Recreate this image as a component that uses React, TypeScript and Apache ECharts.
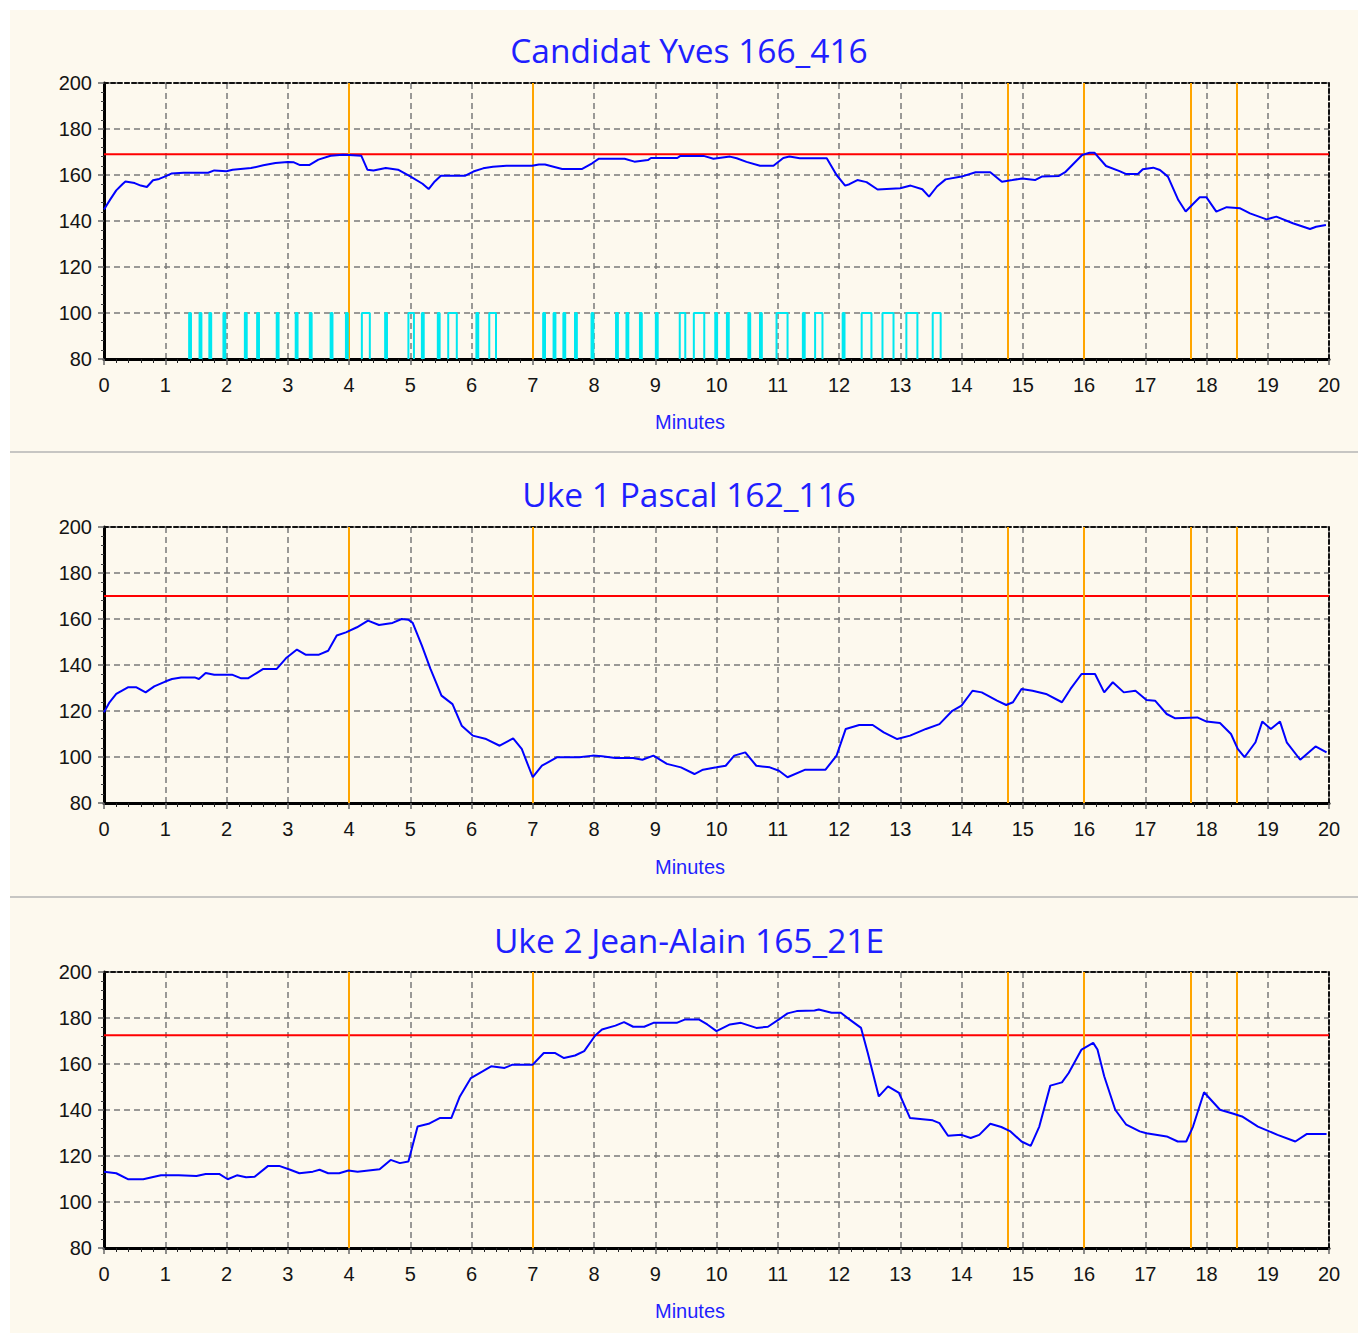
import React, { useEffect, useRef } from "react";
import * as echarts from "echarts";

// ---- data ----
const chartTitles = ["Candidat Yves 166_416", "Uke 1 Pascal 162_116", "Uke 2 Jean-Alain 165_21E"];
const xAxisName = "Minutes";
const thresholds = [169, 170, 172.5];
const phaseMarks = [4, 7, 14.75, 16, 17.75, 18.5];

const yvesHR: [number, number][] = [
  [0, 145], [0.1, 149.3], [0.2, 153.3], [0.3, 156], [0.35, 157.2], [0.5, 156.5], [0.6, 155.4], [0.7, 154.8],
  [0.8, 157.7], [0.9, 158.3], [1.0, 159.4], [1.1, 160.6], [1.3, 161], [1.7, 161], [1.8, 162], [2.0, 161.6],
  [2.1, 162.3], [2.4, 163], [2.6, 164.2], [2.8, 165.2], [3.0, 165.7], [3.1, 165.5], [3.2, 164.3], [3.35, 164.3],
  [3.5, 166.7], [3.7, 168.4], [3.9, 168.8], [4.0, 168.7], [4.2, 168.4], [4.3, 162.3], [4.4, 162], [4.6, 163],
  [4.8, 162.3], [5.0, 159.4], [5.2, 156.2], [5.3, 153.9], [5.4, 157.2], [5.5, 159.7], [5.9, 159.7], [6.03, 161.5],
  [6.19, 162.9], [6.35, 163.6], [6.57, 164], [6.99, 164], [7.1, 164.6], [7.2, 164.6], [7.37, 163.4], [7.48, 162.6],
  [7.8, 162.6], [7.97, 165.1], [8.08, 167.1], [8.5, 167.1], [8.66, 165.8], [8.88, 166.5], [8.93, 167.4], [9.36, 167.4],
  [9.41, 168.3], [9.79, 168.3], [9.95, 167.1], [10.22, 168], [10.33, 167.3], [10.49, 165.7], [10.71, 164], [10.93, 164],
  [11.09, 167.4], [11.19, 168], [11.36, 167.3], [11.8, 167.3], [11.96, 160], [12.1, 155.4], [12.17, 156], [12.3, 157.8],
  [12.45, 156.9], [12.63, 153.7], [13.0, 154.2], [13.17, 155.4], [13.36, 153.8], [13.47, 150.6], [13.6, 155],
  [13.74, 158.1], [14.0, 159.3], [14.23, 161.2], [14.47, 161.2], [14.66, 157.1], [14.83, 157.8], [14.99, 158.5],
  [15.2, 157.8], [15.31, 159.3], [15.59, 159.6], [15.7, 161.4], [15.97, 168.7], [16.09, 169.7], [16.17, 169.7],
  [16.36, 163.9], [16.58, 161.7], [16.69, 160.4], [16.88, 160.4], [16.96, 162.5], [17.13, 163.2], [17.24, 162.2],
  [17.37, 159.3], [17.54, 149.1], [17.66, 144.1], [17.78, 147.4], [17.89, 150.3], [18.0, 150.3], [18.16, 144.1],
  [18.33, 146], [18.55, 145.5], [18.71, 143.3], [18.98, 140.7], [19.14, 141.9], [19.41, 139], [19.69, 136.5],
  [19.79, 137.5], [19.95, 138.3],
];

const pascalHR: [number, number][] = [
  [0, 119.4], [0.09, 123.8], [0.2, 127.4], [0.39, 130.3], [0.53, 130.3], [0.68, 128.1], [0.82, 130.7], [1.0, 132.8],
  [1.11, 133.9], [1.26, 134.6], [1.48, 134.6], [1.55, 133.9], [1.66, 136.5], [1.8, 135.8], [2.09, 135.8], [2.24, 134.2],
  [2.35, 134.2], [2.49, 136.5], [2.6, 138.3], [2.82, 138.3], [2.97, 142.9], [3.15, 146.7], [3.29, 144.5], [3.51, 144.5],
  [3.66, 146.2], [3.8, 152.8], [3.95, 154.2], [4.13, 156.4], [4.31, 159.3], [4.49, 157.4], [4.71, 158.3], [4.86, 160],
  [4.97, 159.7], [5.04, 158.3], [5.19, 148.4], [5.33, 138.3], [5.51, 126.7], [5.69, 123], [5.84, 113.6], [6.02, 109.3],
  [6.24, 107.8], [6.46, 104.9], [6.68, 108.1], [6.82, 103.5], [7.0, 91.2], [7.15, 96.2], [7.4, 99.9], [7.76, 99.9],
  [7.98, 100.6], [8.13, 100.3], [8.35, 99.6], [8.64, 99.6], [8.79, 98.8], [8.97, 100.6], [9.19, 97], [9.42, 95.5],
  [9.64, 92.6], [9.78, 94.5], [10.0, 95.5], [10.15, 96.2], [10.29, 100.6], [10.47, 102], [10.65, 96.2], [10.87, 95.5],
  [11.02, 94], [11.16, 91.2], [11.45, 94.5], [11.78, 94.5], [11.96, 100.6], [12.11, 112.2], [12.33, 113.9], [12.55, 113.9],
  [12.73, 110.7], [12.95, 107.8], [13.16, 109.3], [13.42, 112.2], [13.64, 114.3], [13.85, 120.1], [14.0, 122.3],
  [14.18, 128.8], [14.33, 128.1], [14.58, 124.5], [14.73, 122.6], [14.84, 123.8], [14.98, 129.6], [15.16, 128.8],
  [15.38, 127.4], [15.64, 123.8], [15.78, 129.6], [15.96, 136.1], [16.18, 136.1], [16.33, 128.1], [16.47, 132.5],
  [16.65, 128.1], [16.84, 128.8], [17.02, 124.8], [17.16, 124.5], [17.35, 118.7], [17.49, 116.8], [17.85, 117.2],
  [18.0, 115.4], [18.22, 114.8], [18.4, 110], [18.51, 103.5], [18.62, 99.9], [18.8, 106.4], [18.91, 115.4],
  [19.05, 112.2], [19.2, 115.4], [19.31, 106.4], [19.53, 98.8], [19.78, 104.6], [19.96, 102],
];

const jeanHR: [number, number][] = [
  [0, 113.2], [0.2, 112.5], [0.39, 109.9], [0.64, 109.9], [0.82, 111], [0.93, 111.6], [1.22, 111.6], [1.51, 111.3],
  [1.66, 112.2], [1.88, 112.2], [2.02, 109.9], [2.17, 111.6], [2.32, 110.8], [2.46, 111], [2.68, 115.7], [2.86, 115.7],
  [3.04, 114], [3.19, 112.5], [3.41, 113.2], [3.52, 114], [3.66, 112.5], [3.84, 112.5], [3.99, 113.7], [4.14, 113.2],
  [4.5, 114.2], [4.68, 118.3], [4.83, 116.9], [4.97, 117.6], [5.12, 132.8], [5.3, 134], [5.48, 136.5], [5.67, 136.5],
  [5.81, 145.9], [5.99, 153.9], [6.18, 156.8], [6.32, 159], [6.54, 158.3], [6.67, 159.7], [7.0, 159.7], [7.18, 164.8],
  [7.36, 164.8], [7.51, 162.6], [7.69, 163.7], [7.84, 165.6], [8.02, 172.4], [8.13, 175], [8.35, 176.7], [8.49, 178.2],
  [8.64, 176.2], [8.82, 176.2], [8.97, 177.9], [9.35, 177.9], [9.49, 179.4], [9.71, 179.4], [9.85, 177.2], [10.0, 174.3],
  [10.22, 177.2], [10.4, 177.9], [10.65, 175.7], [10.84, 176.2], [11.02, 179.4], [11.16, 182], [11.31, 183],
  [11.6, 183.3], [11.67, 183.7], [11.88, 182.3], [12.03, 182.3], [12.17, 179.4], [12.36, 175.7], [12.47, 164.8],
  [12.65, 145.9], [12.8, 150.3], [12.98, 147.4], [13.16, 136.5], [13.53, 135.5], [13.64, 134.3], [13.78, 128.8],
  [14.0, 129.2], [14.15, 127.8], [14.29, 129.2], [14.47, 134], [14.65, 132.6], [14.8, 130.7], [14.98, 126.3],
  [15.13, 124.4], [15.27, 132.8], [15.45, 150.6], [15.64, 152], [15.75, 156.1], [15.96, 166.3], [16.15, 169.2],
  [16.22, 166.3], [16.33, 154.7], [16.51, 140.1], [16.69, 133.6], [16.91, 130.7], [17.02, 129.9], [17.35, 128.5],
  [17.53, 126.3], [17.67, 126.3], [17.78, 132.8], [17.96, 147.7], [18.22, 140.1], [18.44, 138.4], [18.58, 137.2],
  [18.84, 132.8], [19.16, 129.2], [19.45, 126.3], [19.64, 129.6], [19.96, 129.6],
];

// cyan event pulses for the candidate: [start, end] in minutes
const yvesPulses: [number, number][] = [
  [1.39, 1.42], [1.56, 1.59], [1.72, 1.75], [1.95, 1.98], [2.3, 2.33], [2.5, 2.53], [2.82, 2.85], [3.13, 3.16],
  [3.36, 3.39], [3.7, 3.73], [3.95, 3.98], [4.21, 4.34], [4.59, 4.62], [4.97, 5.06], [5.19, 5.22], [5.45, 5.48],
  [5.62, 5.76], [6.08, 6.11], [6.29, 6.4], [7.17, 7.2], [7.34, 7.37], [7.5, 7.53], [7.69, 7.72], [7.96, 7.99],
  [8.36, 8.39], [8.53, 8.56], [8.75, 8.78], [9.01, 9.04], [9.4, 9.49], [9.63, 9.8], [9.98, 10.01], [10.17, 10.2],
  [10.52, 10.55], [10.71, 10.74], [10.98, 11.16], [11.41, 11.44], [11.61, 11.73], [12.06, 12.09], [12.37, 12.53],
  [12.71, 12.89], [13.1, 13.28], [13.53, 13.66],
];

const heartRates = [yvesHR, pascalHR, jeanHR];

// ---- layout ----
const W = 1358;
const H = 1333;
const gridTops = [83, 527, 972];
const GRID_LEFT = 104;
const GRID_W = 1225;
const GRID_H = 276;
const titleY = [50, 494, 940];
const nameY = [422, 867, 1311];
const separators = [452, 897];

const FONT = "'Liberation Sans', Arial, sans-serif";
const TITLE_FONT = "'Open Sans', 'Noto Sans', sans-serif";
const BLUE_TEXT = "#1f1fff";

export default function App() {
  const ref = useRef<HTMLDivElement>(null);

  useEffect(() => {
    if (!ref.current) return;
    const chart = echarts.init(ref.current, undefined, { renderer: "svg" });

    const grid: any[] = [];
    const xAxis: any[] = [];
    const yAxis: any[] = [];
    const series: any[] = [];

    for (let i = 0; i < 3; i++) {
      grid.push({ left: GRID_LEFT, top: gridTops[i], width: GRID_W, height: GRID_H, containLabel: false });
    }
    const splitStyle = { show: true, lineStyle: { color: "#7a7a7a", width: 1.5, type: [6, 4] } };
    for (let i = 0; i < 3; i++) {
      xAxis.push({
        type: "value", gridIndex: i, min: 0, max: 20, interval: 1, position: "bottom",
        axisLine: { show: true, onZero: false, lineStyle: { color: "#000", width: 3 } },
        axisTick: { show: true, length: 6, lineStyle: { color: "#666", width: 1.5 } },
        minorTick: { show: true, splitNumber: 5, length: 4, lineStyle: { color: "#222", width: 1 } },
        axisLabel: { fontSize: 20, color: "#141414", margin: 16, fontFamily: FONT },
        splitLine: splitStyle,
      });
    }
    for (let i = 0; i < 3; i++) {
      xAxis.push({
        type: "value", gridIndex: i, min: 0, max: 20, interval: 1, position: "top",
        axisLine: { show: true, onZero: false, lineStyle: { color: "#111", width: 2, type: [4, 3] } },
        axisTick: { show: false }, axisLabel: { show: false }, splitLine: { show: false },
      });
    }
    for (let i = 0; i < 3; i++) {
      yAxis.push({
        type: "value", gridIndex: i, min: 80, max: 200, interval: 20, position: "left",
        axisLine: { show: true, onZero: false, lineStyle: { color: "#000", width: 3 } },
        axisTick: { show: true, length: 6, lineStyle: { color: "#666", width: 1.5 } },
        minorTick: { show: true, splitNumber: 5, length: 3, lineStyle: { color: "#444", width: 1 } },
        axisLabel: { fontSize: 20, color: "#141414", margin: 12, fontFamily: FONT },
        splitLine: splitStyle,
      });
    }
    for (let i = 0; i < 3; i++) {
      yAxis.push({
        type: "value", gridIndex: i, min: 80, max: 200, interval: 20, position: "right",
        axisLine: { show: true, onZero: false, lineStyle: { color: "#111", width: 2, type: [4, 3] } },
        axisTick: { show: false }, axisLabel: { show: false }, splitLine: { show: false },
      });
    }

    for (let i = 0; i < 3; i++) {
      series.push({
        name: "threshold" + i, type: "line", xAxisIndex: i, yAxisIndex: i,
        data: [[0, thresholds[i]], [20, thresholds[i]]],
        symbol: "none", lineStyle: { color: "#ff0000", width: 2 }, silent: true, z: 3,
      });
      series.push({
        name: "phases" + i, type: "line", xAxisIndex: i, yAxisIndex: i, data: [],
        symbol: "none", silent: true, z: 4,
        markLine: {
          silent: true, symbol: "none", label: { show: false },
          lineStyle: { color: "#ffa500", width: 2, type: "solid" },
          data: phaseMarks.map((x) => ({ xAxis: x })),
        },
      });
      if (i === 0) {
        const pulseData: any[] = [];
        yvesPulses.forEach(([s, e]) => {
          pulseData.push([s, 80], [s, 100], [e, 100], [e, 80], [e, "-"]);
        });
        series.push({
          name: "events", type: "line", xAxisIndex: 0, yAxisIndex: 0, data: pulseData,
          symbol: "none", connectNulls: false, lineStyle: { color: "#00e8f0", width: 2 }, silent: true, z: 5,
        });
      }
      series.push({
        name: "hr" + i, type: "line", xAxisIndex: i, yAxisIndex: i, data: heartRates[i],
        symbol: "none", lineStyle: { color: "#0000ff", width: 2 }, silent: true, z: 6,
      });
    }

    const graphic: any[] = [
      { type: "rect", shape: { x: 0, y: 0, width: W, height: 10 }, style: { fill: "#ffffff" }, silent: true },
      { type: "rect", shape: { x: 0, y: 0, width: 10, height: H }, style: { fill: "#ffffff" }, silent: true },
    ];
    separators.forEach((y) => {
      graphic.push({ type: "line", shape: { x1: 10, y1: y, x2: W, y2: y }, style: { stroke: "#b4b4b4", lineWidth: 1.5 }, silent: true });
    });
    for (let i = 0; i < 3; i++) {
      graphic.push({
        type: "text", x: 689, y: titleY[i], silent: true,
        style: { text: chartTitles[i], fill: BLUE_TEXT, font: `33.5px ${TITLE_FONT}`, textAlign: "center", textVerticalAlign: "middle" },
      });
      graphic.push({
        type: "text", x: 690, y: nameY[i], silent: true,
        style: { text: xAxisName, fill: BLUE_TEXT, font: `20px ${FONT}`, textAlign: "center", textVerticalAlign: "middle" },
      });
    }

    chart.setOption({
      animation: false,
      backgroundColor: "#fdf9ee",
      grid, xAxis, yAxis, series, graphic,
    });
    return () => chart.dispose();
  }, []);

  return <div ref={ref} style={{ position: "absolute", left: 0, top: 0, width: W, height: H }} />;
}
